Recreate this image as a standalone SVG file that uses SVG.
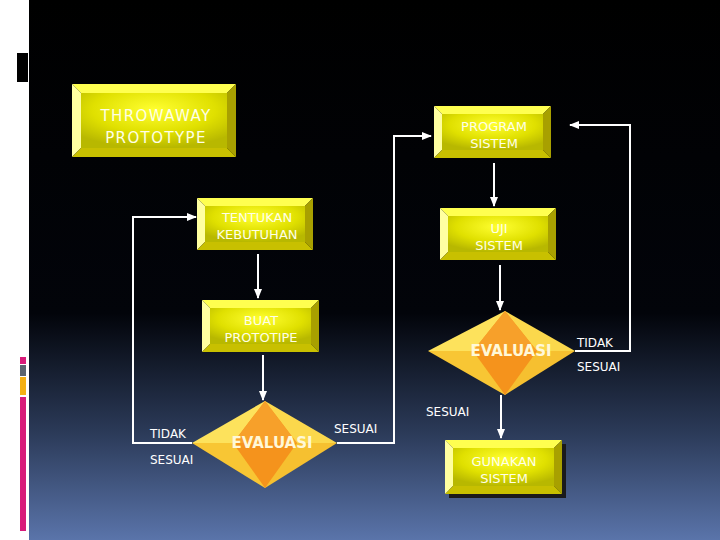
<svg xmlns="http://www.w3.org/2000/svg" width="720" height="540" viewBox="0 0 720 540">
<defs>
<linearGradient id="bg" x1="0" y1="0" x2="0" y2="540" gradientUnits="userSpaceOnUse">
<stop offset="0" stop-color="#000"/><stop offset="0.58" stop-color="#02040a"/><stop offset="0.8" stop-color="#2b3a58"/><stop offset="1" stop-color="#5a74aa"/>
</linearGradient>
<radialGradient id="face" cx="0.5" cy="0.3" r="0.7">
<stop offset="0" stop-color="#ffff30"/><stop offset="0.6" stop-color="#e0e000"/><stop offset="1" stop-color="#b8b800"/>
</radialGradient>
<marker id="ah" viewBox="0 0 10 10" refX="9" refY="5" markerWidth="5" markerHeight="5" orient="auto" markerUnits="strokeWidth">
<path d="M0,1 L10,5 L0,9 z" fill="#fff"/>
</marker>
<style>
.bt{fill:#ffff50}.bl{fill:#ffffa0}.br{fill:#a8a000}.bb{fill:#c8c000}
.lbl{font-family:"DejaVu Sans","Liberation Sans",sans-serif;font-size:13px;fill:#ffffe6;text-anchor:middle}
.big{font-size:15px;letter-spacing:1.4px}
.ev{font-family:"DejaVu Sans","Liberation Sans",sans-serif;font-size:15px;font-weight:bold;fill:#fff8d8;text-anchor:middle}
.side{font-family:"DejaVu Sans","Liberation Sans",sans-serif;font-size:12px;fill:#fff}
.c{stroke:#fff;stroke-width:2;fill:none}
</style>
</defs>
<rect x="0" y="0" width="720" height="540" fill="#fff"/>
<rect x="29" y="0" width="691" height="540" fill="url(#bg)"/>
<rect x="17" y="53" width="11" height="29" fill="#000"/>
<rect x="20" y="357" width="6" height="7" fill="#d81b7a"/>
<rect x="20" y="365" width="6" height="11" fill="#5a6470"/>
<rect x="20" y="377" width="6" height="18" fill="#f4b014"/>
<rect x="20" y="397" width="6" height="134" fill="#d81b7a"/>

<g id="throwaway">
<polygon class="bt" points="72,84 236,84 227,93 81,93"/>
<polygon class="bl" points="72,84 81,93 81,148 72,157"/>
<polygon class="br" points="236,84 236,157 227,148 227,93"/>
<polygon class="bb" points="72,157 236,157 227,148 81,148"/>
<rect x="81" y="93" width="146" height="55" fill="url(#face)"/>
<text class="lbl big" x="156" y="121">THROWAWAY</text>
<text class="lbl big" x="156" y="143">PROTOTYPE</text>
</g>

<g id="program">
<polygon class="bt" points="434,106 551,106 543,114 442,114"/>
<polygon class="bl" points="434,106 442,114 442,150 434,158"/>
<polygon class="br" points="551,106 551,158 543,150 543,114"/>
<polygon class="bb" points="434,158 551,158 543,150 442,150"/>
<rect x="442" y="114" width="101" height="36" fill="url(#face)"/>
<text class="lbl" x="494" y="131">PROGRAM</text>
<text class="lbl" x="494" y="148">SISTEM</text>
</g>

<g id="tentukan">
<polygon class="bt" points="197,198 313,198 305,206 205,206"/>
<polygon class="bl" points="197,198 205,206 205,242 197,250"/>
<polygon class="br" points="313,198 313,250 305,242 305,206"/>
<polygon class="bb" points="197,250 313,250 305,242 205,242"/>
<rect x="205" y="206" width="100" height="36" fill="url(#face)"/>
<text class="lbl" x="257" y="222">TENTUKAN</text>
<text class="lbl" x="257" y="239">KEBUTUHAN</text>
</g>

<g id="uji">
<polygon class="bt" points="440,208 556,208 548,216 448,216"/>
<polygon class="bl" points="440,208 448,216 448,252 440,260"/>
<polygon class="br" points="556,208 556,260 548,252 548,216"/>
<polygon class="bb" points="440,260 556,260 548,252 448,252"/>
<rect x="448" y="216" width="100" height="36" fill="url(#face)"/>
<text class="lbl" x="499" y="233">UJI</text>
<text class="lbl" x="499" y="250">SISTEM</text>
</g>

<g id="buat">
<polygon class="bt" points="202,300 319,300 311,308 210,308"/>
<polygon class="bl" points="202,300 210,308 210,344 202,352"/>
<polygon class="br" points="319,300 319,352 311,344 311,308"/>
<polygon class="bb" points="202,352 319,352 311,344 210,344"/>
<rect x="210" y="308" width="101" height="36" fill="url(#face)"/>
<text class="lbl" x="261" y="325">BUAT</text>
<text class="lbl" x="261" y="342">PROTOTIPE</text>
</g>

<g id="gunakan">
<rect x="449" y="444" width="117" height="54" fill="#1a1a1a"/>
<polygon class="bt" points="445,440 562,440 554,448 453,448"/>
<polygon class="bl" points="445,440 453,448 453,486 445,494"/>
<polygon class="br" points="562,440 562,494 554,486 554,448"/>
<polygon class="bb" points="445,494 562,494 554,486 453,486"/>
<rect x="453" y="448" width="101" height="38" fill="url(#face)"/>
<text class="lbl" x="504" y="466">GUNAKAN</text>
<text class="lbl" x="504" y="483">SISTEM</text>
</g>

<g id="eval-right">
<polygon points="428,351 505,311 505,351" fill="#fde25c"/>
<polygon points="505,311 575,351 505,351" fill="#fbd84c"/>
<polygon points="428,351 505,395 505,351" fill="#f8c634"/>
<polygon points="575,351 505,395 505,351" fill="#f6c030"/>
<polygon points="505,311 537,351 505,395 473,351" fill="#f5931c"/>
<polygon points="505,311 537,351 473,351" fill="#f7a02a"/>
<text class="ev" x="511" y="356">EVALUASI</text>
</g>

<g id="eval-left">
<polygon points="192,443 265,401 265,443" fill="#fde25c"/>
<polygon points="265,401 337,443 265,443" fill="#fbd84c"/>
<polygon points="192,443 265,488 265,443" fill="#f8c634"/>
<polygon points="337,443 265,488 265,443" fill="#f6c030"/>
<polygon points="265,401 297,443 265,488 233,443" fill="#f5931c"/>
<polygon points="265,401 297,443 233,443" fill="#f7a02a"/>
<text class="ev" x="272" y="448">EVALUASI</text>
</g>

<g id="connectors">
<path class="c" d="M258,254 V298" marker-end="url(#ah)"/>
<path class="c" d="M263,355 V400" marker-end="url(#ah)"/>
<path class="c" d="M192,443 H133 V217 H196" marker-end="url(#ah)"/>
<path class="c" d="M337,443 H394 V136 H431" marker-end="url(#ah)"/>
<path class="c" d="M494,163 V206" marker-end="url(#ah)"/>
<path class="c" d="M500,265 V310" marker-end="url(#ah)"/>
<path class="c" d="M575,351 H630 V125 H570" marker-end="url(#ah)"/>
<path class="c" d="M501,395 V438" marker-end="url(#ah)"/>
</g>

<g id="labels">
<text class="side" x="577" y="347">TIDAK</text>
<text class="side" x="577" y="371">SESUAI</text>
<text class="side" x="426" y="416">SESUAI</text>
<text class="side" x="150" y="438">TIDAK</text>
<text class="side" x="150" y="464">SESUAI</text>
<text class="side" x="334" y="433">SESUAI</text>
</g>
</svg>
